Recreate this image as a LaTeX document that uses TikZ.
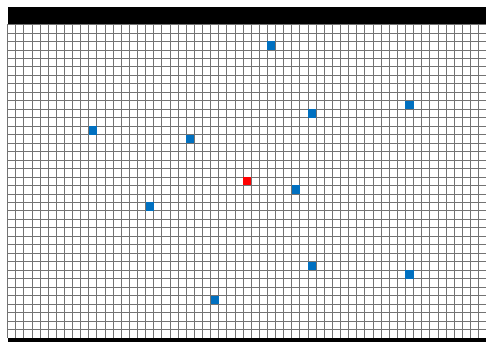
\documentclass[tikz,border=0pt]{standalone}
\definecolor{cellblue}{RGB}{0,112,192}
\definecolor{cellred}{RGB}{255,0,0}
\begin{document}
\begin{tikzpicture}[x=1pt,y=-1pt,
  gridline/.style={draw=black!55,line width=0.7pt},
  bluecell/.style={fill=cellblue},
  redcell/.style={fill=cellred}]
\useasboundingbox (0,0) rectangle (486,342);
\fill[white] (0,0) rectangle (486,342);
\def\gXo{7.5}\def\gYo{24.5}\def\gSx{8.12}\def\gSy{8.47}
\foreach \i in {0,...,59}
  \draw[gridline] ({\gXo+\i*\gSx},\gYo) -- ({\gXo+\i*\gSx},{\gYo+37*\gSy});
\foreach \j in {0,...,37}
  \draw[gridline] (\gXo,{\gYo+\j*\gSy}) -- ({\gXo+59*\gSx},{\gYo+\j*\gSy});
\foreach \c/\r in {32/2,37/10,49/9,10/12,22/13,35/19,17/21,37/28,49/29,25/32}
  \fill[bluecell] ({\gXo+\c*\gSx},{\gYo+\r*\gSy}) rectangle ++({\gSx},{\gSy});
\fill[redcell] ({\gXo+29*\gSx},{\gYo+18*\gSy}) rectangle ++({\gSx},{\gSy});
\fill[black] (8,7) rectangle (486,24.5);
\fill[black] (8,338) rectangle (486,342);
\end{tikzpicture}
\end{document}
